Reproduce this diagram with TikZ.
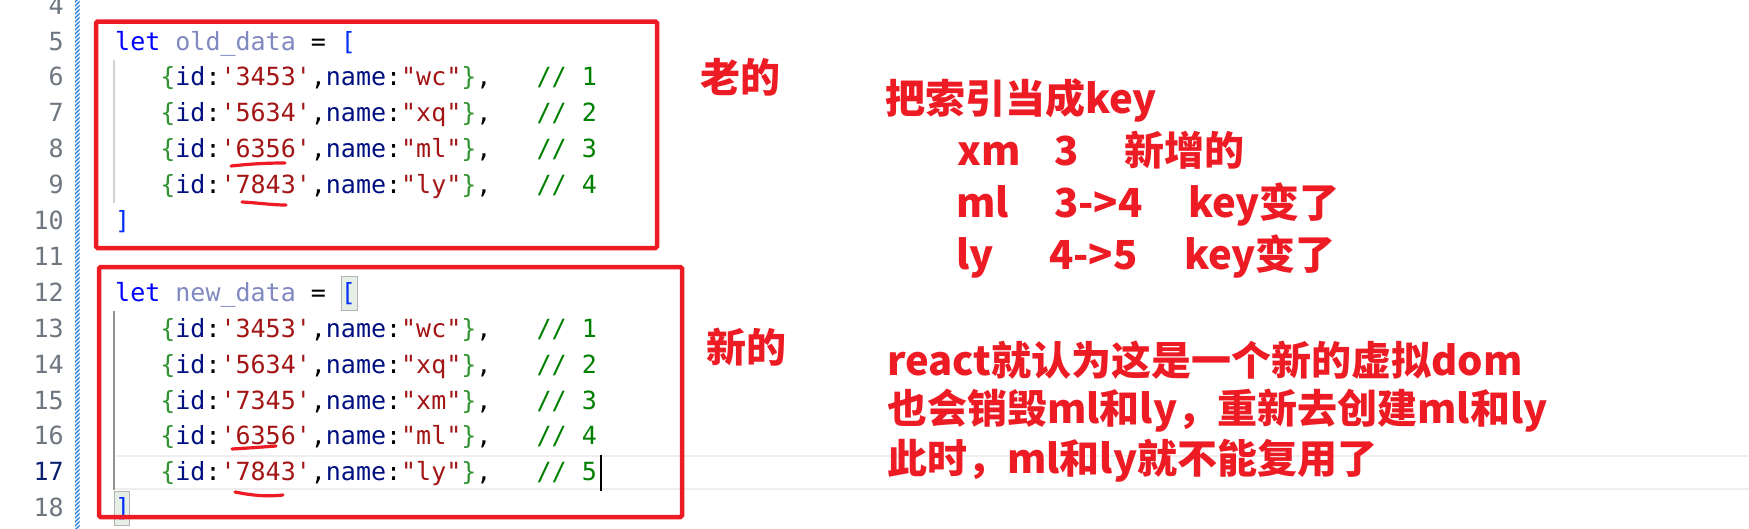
\documentclass[tikz,border=0pt]{standalone}
\usepackage{fontspec}
\newfontfamily\codefont{DejaVu Sans Mono}
\newfontfamily\notefont{Noto Sans CJK SC}
\definecolor{kwblue}{HTML}{0000FF}
\definecolor{varfade}{HTML}{8089C0}
\definecolor{propnavy}{HTML}{001080}
\definecolor{strred}{HTML}{A31515}
\definecolor{cmtgreen}{HTML}{008000}
\definecolor{brblue}{HTML}{0431FA}
\definecolor{brgreen}{HTML}{319331}
\definecolor{lnumgray}{HTML}{6E7681}
\definecolor{lnumcur}{HTML}{0B216F}
\definecolor{markred}{HTML}{ED1C24}
\definecolor{gutterblue}{HTML}{1F7AD0}
\definecolor{guidegray}{HTML}{D3D3D3}
\definecolor{guideact}{HTML}{939393}
\definecolor{curline}{HTML}{EEEEEE}
\definecolor{brmatch}{HTML}{E6EFE6}
\newcommand\datarow[3]{~~~\textcolor{brgreen}{\{}\textcolor{propnavy}{id}:\textcolor{strred}{\textquotesingle#1\textquotesingle},\textcolor{propnavy}{name}:\textcolor{strred}{\textquotedbl#2\textquotedbl}\textcolor{brgreen}{\}},~~~\textcolor{cmtgreen}{//~#3}}
\begin{document}
\begin{tikzpicture}[x=1pt, y=-1pt,
	code/.style={anchor=base west, inner sep=0pt, font=\codefont\fontsize{25}{30}\selectfont\frenchspacing},
	lnum/.style={anchor=base east, inner sep=0pt, text=lnumgray, font=\codefont\fontsize{25}{30}\selectfont},
	note/.style={anchor=base west, inner sep=0pt, text=markred, font=\notefont\bfseries\fontsize{40}{48}\selectfont},
	redbox/.style={draw=markred, line width=4.5pt, rounded corners=1.5pt},
	scribble/.style={draw=markred, line width=3.2pt, line cap=round}]
			\useasboundingbox (0,0) rectangle (1749,528);
			\fill[white] (0,0) rectangle (1749,528);
			\begin{scope}
				\clip (75,0) rectangle (79.5,528);
				\foreach \y in {0,4,...,536} {
					\draw[gutterblue, line width=1.4pt] (74,\y+3) -- (81,\y-4);
				}
			\end{scope}
			\draw[curline, line width=2.5pt] (115,456) -- (1749,456) (115,489) -- (1749,489);
			\draw[guidegray, line width=1.2pt] (114,60) -- (114,203);
			\draw[guideact, line width=1.2pt] (114,311) -- (114,490);
			\draw[black!30, fill=brmatch, line width=1pt] (341,276) rectangle (357,310);
			\draw[black!30, fill=brmatch, line width=1pt] (114,491) rectangle (129,525);
			\foreach \n in {4, 5, ..., 16, 18} {
				\node[lnum] (ln\n) at (64, {50+(\n-5)*35.9}) {\n};
			}
			\node[lnum, text=lnumcur] (ln17) at (64, {50+12*35.9}) {17};
			\node[code] (oldhead) at (115, 50) {\textcolor{kwblue}{let}~\textcolor{varfade}{old\_data}~=~\textcolor{brblue}{[}};
			\foreach \n/\i/\m/\c in {6/3453/wc/1, 7/5634/xq/2, 8/6356/ml/3, 9/7843/ly/4} {
				\node[code] (old\n) at (115, {50+(\n-5)*35.9}) {\datarow{\i}{\m}{\c}};
			}
			\node[code] (oldtail) at (115, {50+5*35.9}) {\textcolor{brblue}{]}};
			\node[code] (newhead) at (115, {50+7*35.9}) {\textcolor{kwblue}{let}~\textcolor{varfade}{new\_data}~=~\textcolor{brblue}{[}};
			\foreach \n/\i/\m/\c in {13/3453/wc/1, 14/5634/xq/2, 15/7345/xm/3, 16/6356/ml/4, 17/7843/ly/5} {
				\node[code] (new\n) at (115, {50+(\n-5)*35.9}) {\datarow{\i}{\m}{\c}};
			}
			\node[code] (newtail) at (115, {50+13*35.9}) {\textcolor{brblue}{]}};
			\draw[black, line width=2.5pt] (601,455) -- (601,491);
			\draw[redbox] (96,21.5) rectangle (657,248);
			\draw[redbox] (99,267) rectangle (682,517);
			\draw[scribble] (231,166) .. controls (250,164) and (265,163) .. (285,163);
			\draw[scribble] (242,202) .. controls (260,203) and (272,205) .. (286,205);
			\draw[scribble] (232,449) .. controls (250,448) and (262,447) .. (276,446);
			\draw[scribble] (235,492) .. controls (250,495) and (265,497) .. (283,495);
			\node[note] (oldtag) at (700, 92) {老的};
			\node[note] (newtag) at (706, 362) {新的};
			\node[note] (keyhead) at (885, 113) {把索引当成key};
			\node[note] (xmname) at (957, 165) {xm};
			\node[note] (xmidx) at (1054, 165) {3};
			\node[note] (xmnote) at (1124, 165) {新增的};
			\node[note] (mlname) at (956, 217) {ml};
			\node[note] (mlidx) at (1054, 217) {3->4};
			\node[note] (mlnote) at (1188, 217) {key变了};
			\node[note] (lyname) at (956, 269) {ly};
			\node[note] (lyidx) at (1049, 269) {4->5};
			\node[note] (lynote) at (1184, 269) {key变了};
			\node[note] (reactline) at (887, 375) {react就认为这是一个新的虚拟dom};
			\node[note] (destroyline) at (887, 423) {也会销毁ml和ly，重新去创建ml和ly};
			\node[note] (reuseline) at (887, 473) {此时，ml和ly就不能复用了};
			\end{tikzpicture}
\end{document}
